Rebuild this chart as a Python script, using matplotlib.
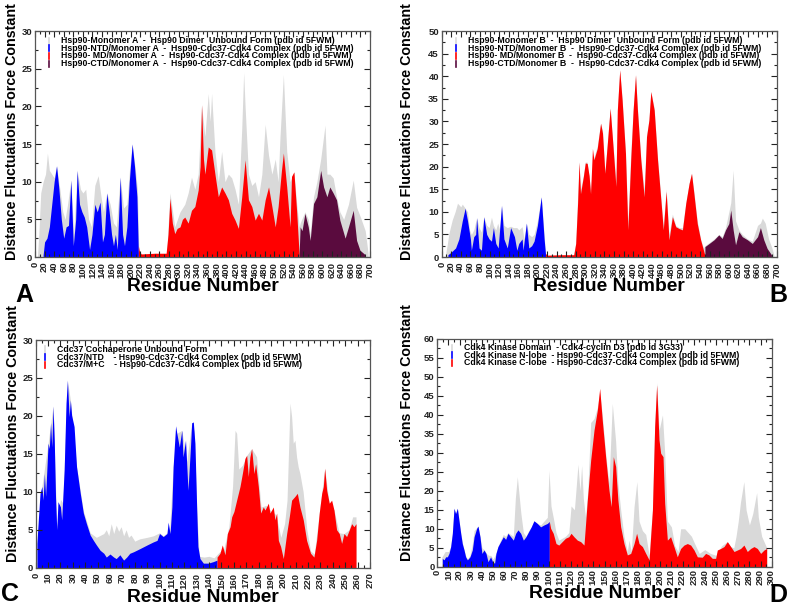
import matplotlib
matplotlib.use("Agg")
import matplotlib.pyplot as plt
from matplotlib.ticker import MultipleLocator
from matplotlib.lines import Line2D

plt.rcParams['font.family'] = ['Liberation Sans', 'DejaVu Sans']
plt.rcParams['font.weight'] = 'bold'

GRAY = '#d9d9d9'
BLUE = '#0000ff'
RED = '#ff0000'
MAROON = '#5a0b3e'

# ---------------- Panel A ----------------
A_gray_res = [5, 8, 12, 17, 22, 26, 30, 35, 40, 45, 52, 58, 63, 68, 75, 81, 88, 95, 100, 106,
              112, 118, 125, 132, 138, 143, 150, 157, 164, 170, 178, 185, 192, 198, 203, 209, 214, 217, 220, 275,
              282, 292, 303, 313, 320, 327, 334, 341, 348, 355, 362, 366, 369, 376, 383, 390, 397, 404, 411, 418,
              425, 432, 436, 439, 446, 453, 460, 467, 474, 481, 488, 495, 502, 508, 512, 519, 526, 533, 541, 547,
              552, 554, 564, 571, 575, 582, 589, 597, 606, 610, 616, 623, 630, 637, 645, 655, 665, 672, 680, 690, 696]
A_gray_val = [0, 3, 8.5, 10, 11, 13.8, 11.5, 11, 10.5, 12.1, 9, 6, 5, 7, 10.2, 3, 11.5, 9, 8.5, 9,
              5, 4, 9.5, 10.8, 8, 6, 8.5, 7, 4.5, 4, 10.6, 6.5, 7, 12, 15, 12, 9, 1, 0.4, 0.4,
              8.5, 4, 6, 7, 8.5, 10.6, 9, 11, 20.2, 16, 21.7, 18, 21.7, 14, 10, 14, 10, 11, 10.5, 9,
              7, 17, 24.5, 20, 11, 9.5, 10, 8, 11, 17.6, 13.5, 11, 13, 10, 16, 24.2, 14, 10, 11.3, 7,
              4, 4.5, 6, 5, 3, 8, 10, 13, 17.5, 11, 11, 10.5, 8, 6, 5, 7, 10.2, 6.6, 5.3, 3.5, 0.5]
A_ntd_res = [17, 20, 25, 30, 35, 40, 45, 50, 55, 60, 65, 70, 75, 80, 85, 88, 93, 98, 103, 108,
             114, 119, 125, 130, 136, 141, 145, 150, 155, 160, 164, 168, 172, 178, 183, 187, 192, 197, 203, 208, 213, 216]
A_ntd_val = [0.3, 2, 2.5, 4, 7, 10, 12.1, 9, 5, 2.5, 4, 4.2, 10.2, 1.5, 5, 11.5, 7, 6, 5.3, 4,
             1, 3, 7, 6, 7.3, 2, 3, 8.5, 6, 3, 1.5, 3, 1, 10.6, 3, 1.5, 4, 10, 15, 12, 8, 0.5]
A_md_res = [216, 218, 222, 250, 274, 278, 282, 287, 292, 297, 303, 308, 313, 320, 327, 334, 341, 345, 348, 352,
            355, 362, 369, 376, 383, 390, 397, 404, 411, 418, 425, 432, 439, 446, 453, 460, 467, 474, 481, 488,
            495, 502, 508, 515, 519, 526, 533, 536, 541, 547, 552]
A_md_val = [1.5, 0.8, 0.4, 0.5, 0.5, 3, 7.8, 4.5, 3.1, 3.8, 4, 5, 5.3, 4.5, 6.2, 6.7, 8.9, 12, 20.2, 13,
            11, 14.6, 14.2, 11, 8, 9.3, 8.5, 7.6, 5.8, 4.9, 3.8, 8, 12.9, 7.6, 6.7, 4.9, 5.8, 4.9, 7.6, 9.3,
            6.7, 4, 6.7, 11.5, 13.8, 9.3, 4, 10.7, 11.3, 5.8, 0.2]
A_ctd_res = [552, 554, 558, 564, 571, 575, 582, 589, 597, 603, 610, 616, 623, 630, 637, 648, 655, 665, 672, 679, 690]
A_ctd_val = [0.5, 4, 3.5, 5.8, 4, 2.2, 7.1, 8, 11.5, 9.3, 8, 9.3, 8.5, 7.6, 4.9, 2.5, 4, 6.2, 2.2, 0.9, 0.3]

# ---------------- Panel B ----------------
B_gray_res = [8, 12, 15, 22, 28, 33, 40, 43, 49, 54, 58, 62, 67, 73, 78, 83, 88, 94, 99, 104,
              108, 113, 117, 121, 125, 130, 137, 144, 150, 157, 161, 168, 172, 177, 182, 188, 193, 200, 208, 214,
              217, 220, 275, 280, 287, 290, 296, 300, 304, 311, 318, 325, 332, 336, 341, 346, 352, 357, 364, 367,
              372, 377, 384, 389, 395, 400, 405, 409, 416, 423, 428, 433, 437, 444, 451, 458, 463, 469, 475, 482,
              489, 496, 503, 510, 517, 522, 527, 534, 541, 547, 550, 559, 569, 579, 586, 593, 600, 604, 609, 614,
              621, 628, 639, 649, 660, 666, 670, 676, 683, 690, 694]
B_gray_val = [0.5, 3, 5.2, 8.2, 10, 11.9, 11.1, 11.7, 10.8, 10, 6, 5, 6, 8.7, 6.5, 5.5, 8.9, 7, 6.5, 8.8,
              7, 6, 7.5, 6, 11.4, 7, 6.5, 6.8, 6.5, 6.5, 6, 6.7, 4, 7.5, 5, 4.5, 5, 8, 13.3, 5,
              0.5, 0.4, 0.4, 3, 21, 15, 18, 21, 21, 15, 22, 24.5, 29.6, 28, 19, 25, 33, 26, 17, 32.5,
              41.4, 35, 23.5, 8, 23, 32.5, 40.3, 33, 22, 15, 27, 30.3, 36.6, 33, 22, 13, 7, 15, 5, 9.5,
              7, 6.5, 6.5, 12, 16.3, 18.5, 14.5, 8, 4, 2, 2.5, 3.2, 4, 5, 4.5, 6.5, 10, 12, 19.2, 8,
              6, 5, 4, 3.5, 7, 7.5, 8.6, 7.5, 4, 2, 0.5]
B_ntd_res = [13, 19, 24, 29, 36, 43, 49, 54, 60, 62, 67, 71, 73, 78, 83, 88, 94, 99, 104, 108,
             113, 118, 125, 130, 137, 144, 148, 152, 157, 161, 168, 170, 177, 182, 188, 193, 200, 208, 214, 217]
B_ntd_val = [0.5, 1, 1.5, 2, 4, 8, 10.8, 8, 4, 1.5, 4.5, 5, 8.7, 2, 1.5, 8.9, 5, 4, 3.5, 6.5,
             3, 2, 11.4, 4, 2, 6.5, 5.5, 4.5, 1.5, 3, 4, 1.5, 7.5, 2, 2.5, 3.5, 7, 13.3, 4, 0.5]
B_md_res = [217, 220, 250, 276, 280, 284, 287, 290, 296, 300, 304, 308, 311, 315, 318, 325, 332, 336, 341, 346,
            352, 357, 364, 367, 372, 377, 384, 389, 395, 400, 405, 409, 416, 423, 428, 433, 437, 444, 451, 458,
            463, 469, 475, 482, 489, 496, 503, 510, 517, 522, 527, 534, 541, 547, 550]
B_md_val = [0.8, 0.4, 0.5, 0.5, 3, 12, 21, 14, 17.8, 20.8, 20.7, 18, 14, 24, 21.5, 24, 29.6, 27.4, 18.5, 25,
            32.9, 25.9, 15.6, 32.5, 41.4, 34.7, 22.9, 6, 21.5, 32.5, 40.3, 32.5, 21.5, 13.3, 26.6, 30.3, 36.6, 32.5, 21.5, 12.6,
            6, 14.5, 3.8, 8.9, 6.7, 6.3, 6, 11.9, 16.3, 18.5, 14, 7.4, 3.8, 1.5, 0.3]
B_ctd_res = [550, 559, 569, 579, 586, 593, 600, 604, 609, 614, 621, 628, 639, 649, 660, 666, 673, 680, 689]
B_ctd_val = [2.3, 3, 3.8, 4.9, 4.1, 6, 7.4, 10.4, 6, 2.7, 5.6, 4.5, 3.8, 3, 4.5, 6.5, 3.8, 1.9, 0.5]

# ---------------- Panel C ----------------
C_gray_res = [1, 5, 10, 14, 17, 20, 22, 25.6, 28, 33, 38.5, 44, 49, 55, 57, 59, 61, 63, 65, 67,
              69, 71, 73, 75, 77, 80, 84, 90, 95, 100, 103, 106, 108, 111, 114, 118, 122, 126, 128, 130,
              132, 136, 140, 144, 148, 152, 156, 159, 161, 162.3, 164, 167, 170.4, 174.4, 178.4, 182, 186, 190, 194, 198,
              201, 203, 205.4, 206.7, 208, 209.4, 210.7, 212, 213.4, 216, 219, 222, 225, 229, 233.4, 237, 241, 245, 249, 253,
              256, 258.7]
C_gray_val = [3.2, 10.7, 16.4, 21.3, 5.5, 9, 8.5, 24.7, 22.1, 13.3, 7.5, 4.6, 4, 4.5, 5, 4.2, 5.8, 4.5, 5.6, 4.8,
              5.4, 4.2, 5, 4, 4.3, 3.5, 3.8, 4, 4.2, 4.6, 4.2, 4.6, 4.6, 13.3, 17.7, 18.1, 14, 19.1, 18, 8,
              1.5, 1.4, 1.5, 1.3, 2, 2.5, 5.4, 10.7, 18.1, 17.7, 13, 13.5, 14.8, 15.7, 14.6, 8, 8.2, 7.5, 7, 4,
              5.8, 8.9, 21.7, 19.9, 16.4, 16.8, 14.6, 13.3, 12.4, 10, 5, 2.2, 1.8, 7.2, 13.1, 8.5, 7.6, 4.6, 4.5, 5,
              6.7, 6.7]
C_ntd_res = [1, 2, 3.5, 5, 6, 7, 8, 10, 11, 12, 13, 14, 15, 16, 17, 18, 20, 21, 23, 24.5,
             25.6, 27, 28, 29, 31, 33, 36, 38.5, 41, 44, 46.6, 49, 52, 55, 57, 60, 63, 65, 68, 71,
             73.5, 76, 79, 84, 90, 95, 98, 100, 103, 106, 107, 108.5, 110, 111, 113, 114, 116, 118, 119, 121,
             123, 125, 126, 127.3, 128.6, 130, 131, 132.7, 135.4, 139.4, 143.4, 146.5]
C_ntd_val = [3.2, 6, 9.8, 10.7, 8.9, 12.4, 9.4, 16.4, 15.7, 19.1, 15.9, 21.3, 16.8, 9.4, 5, 8.7, 8, 6.3, 12.9, 21.7,
             24.7, 19.9, 22.1, 20.1, 18.6, 13.3, 9.8, 7.2, 5.8, 4.3, 3.6, 3, 2.3, 1.9, 1.4, 1.8, 1.4, 1.2, 1.7, 1,
             1.4, 1.9, 2.1, 2.5, 3, 3.4, 3.6, 4.5, 4.1, 4.5, 6, 4.5, 8, 13.3, 18.7, 17.7, 15.9, 18.1, 14.6, 16.8,
             10.2, 15.9, 19.1, 19.2, 16.4, 8, 2.8, 1.2, 0.6, 0.6, 0.8, 1]
C_mc_res = [146.5, 148.8, 150.7, 152.9, 154.8, 157, 158.3, 160.1, 162.3, 165, 166.9, 169, 170.4, 171.7, 173, 174.4, 176.3, 177.6, 179.8, 181.7,
            183.8, 185.2, 187.9, 189.2, 191.9, 193.2, 194.6, 196, 197.8, 200, 202.7, 204.8, 206.7, 209.4, 211.3, 213.4, 216.1, 218.8, 222, 224.7,
            226.9, 229, 231, 232.3, 233.4, 235, 237.1, 239, 240.9, 243, 245.2, 247.1, 249, 251.1, 253.3, 255.2, 257, 258.7]
C_mc_val = [1.4, 1.9, 3, 1.7, 4.5, 5.4, 6.7, 7.4, 8.9, 10.7, 12.4, 14.4, 14.8, 12, 14.6, 15.7, 12.4, 13.7, 10.7, 7.2,
            8, 7.6, 8.5, 7.2, 8, 6.3, 7.2, 3.6, 2.8, 1.2, 4.5, 6.7, 8.9, 9.4, 9.8, 8, 6.3, 3.6, 1.9, 1.4,
            3.6, 7.2, 9.8, 10.7, 13.1, 10.2, 8.5, 8.9, 7.6, 5, 4.5, 3.2, 4.5, 4.1, 5, 5.8, 5.4, 5.8]

# ---------------- Panel D ----------------
D_gray_res = [4, 7, 10, 12, 13.5, 15, 16.4, 18, 19.4, 21, 22.4, 24, 25.4, 27, 29.3, 31.4, 33, 35.3, 36.5, 38.3,
              40, 42, 44, 46, 48, 50, 52.6, 54.4, 56.8, 59.2, 61.3, 63.4, 65.8, 68.2, 70, 71.8, 73, 75, 77.2, 79.5,
              82, 84.3, 86.7, 89.7, 92.7, 95.7, 98.7, 100.2, 102, 104, 106.5, 109, 112, 115, 118, 120, 123, 126.2, 128, 129.5,
              131, 133, 135, 137.6, 140.6, 143.6, 145.7, 148, 151, 154, 157, 160, 162, 164.5, 167.5, 170.5, 172, 174, 176.5, 179,
              181, 184, 187, 190, 193, 195, 196.8, 199, 202, 204, 206.4, 210, 213, 216, 218.3, 222, 225, 228, 231, 235,
              240, 245, 250, 255, 260, 263, 266, 268, 270, 272, 275, 277, 280, 283, 286.5, 288, 291, 294, 295.5]
D_gray_val = [2.5, 4, 4, 5.3, 8.8, 15.4, 14, 15.4, 12.3, 9, 6.5, 4.5, 3, 2, 3, 6, 9.5, 10.3, 10.7, 8,
              5, 4.5, 3.5, 3, 3, 2, 3.5, 5.3, 7, 8.5, 8, 9, 8.5, 8, 18, 23.7, 20, 14, 9, 8,
              9.5, 10.5, 12.1, 11.4, 11, 12, 13, 25.4, 16, 13, 9, 7, 7.5, 8, 9, 16, 15, 27, 20, 26.7,
              18, 13, 20, 38, 39, 42, 46, 40, 30, 22, 43, 33, 22, 15, 8, 4, 7, 4, 15.8, 22.4,
              12, 9.5, 8.5, 3, 15, 37, 48.5, 36, 40, 30, 12, 10.5, 5.5, 4, 10, 10, 9, 8, 6, 3.5,
              4.5, 3.5, 3, 5.5, 6.6, 5.3, 5, 8, 12, 17, 22.4, 15, 11, 14, 19.5, 13, 8, 6, 5]
D_nlobe_res = [4.5, 6, 7.5, 9, 10.5, 12, 13.5, 15, 16.4, 18, 19.4, 21, 22.4, 24, 25.4, 27, 29.3, 31.4, 33, 35.3,
               36.5, 38.3, 40, 41.9, 43.7, 45.5, 47.8, 49.6, 51.4, 52.6, 54.4, 56.8, 59.2, 61.3, 63.4, 65.8, 68.2, 70.3, 72.4, 74.8,
               77.2, 79.5, 81.9, 84.3, 86.7, 89.7, 92.7, 95.7, 98.7, 100.5]
D_nlobe_val = [2.2, 1.8, 2.6, 2.6, 3.5, 5.3, 8.8, 15.4, 14, 15.4, 12.3, 8.8, 6.1, 4.4, 2.6, 1.8, 2.6, 4.4, 7.9, 10.1,
               10.7, 7.9, 3.5, 4.4, 3.5, 1.3, 2.6, 1.3, 0.9, 3.5, 5.3, 6.6, 7.9, 7.2, 8.8, 7.9, 7, 8.8, 9.7, 8.8,
               7, 7.9, 9.2, 10.5, 12.1, 11.4, 10.5, 11, 11.4, 11.9]
D_clobe_res = [100.5, 101.7, 104, 106.5, 109, 112, 115, 118, 120, 122.6, 125.6, 128.6, 131.6, 134.6, 137.6, 140.6, 143.6, 145.7, 148, 151,
               154, 156, 157.9, 160, 162, 164.5, 167.5, 170.5, 173.5, 176.5, 178.8, 181, 184, 187, 190, 193, 195, 196.8, 198.9, 200.4,
               202.5, 204, 206.4, 209.3, 212.3, 215.3, 218.3, 221.3, 224.3, 227.3, 230.3, 233.3, 237.7, 240.7, 243.7, 246.7, 249.7, 251.2, 254.2, 257.2,
               260.2, 263.2, 266.2, 269.2, 272.1, 275.1, 278.1, 281.1, 284.1, 287.1, 290.1, 293.1, 295.5]
D_clobe_val = [11.9, 10.1, 8.8, 6.1, 5.7, 6.6, 7.5, 7.9, 8.8, 7.9, 7, 6.6, 5.7, 17.6, 28.1, 36, 41.3, 47, 38.6, 29,
               20.2, 15.8, 29, 26.4, 17.6, 10.5, 6.1, 3.1, 3.5, 6.1, 8.8, 6.1, 5.3, 3.5, 1.8, 14.9, 36.9, 47.9, 33.4, 29.9,
               29, 16.7, 7, 7.9, 5.3, 2.6, 4.8, 5.7, 6.1, 5.7, 4.4, 2.6, 2.5, 3.5, 3.1, 2.2, 2.2, 4.4, 4.8, 5.3,
               6.6, 5.3, 4, 4.4, 4.8, 5.7, 4, 4.8, 5.3, 4.8, 3.5, 4.4, 4.8]

legend_A = ["Hsp90-Monomer A  -  Hsp90 Dimer  Unbound Form (pdb id 5FWM)",
            "Hsp90-NTD/Monomer A  -  Hsp90-Cdc37-Cdk4 Complex (pdb id 5FWM)",
            "Hsp90- MD/Monomer A  -  Hsp90-Cdc37-Cdk4 Complex (pdb id 5FWM)",
            "Hsp90-CTD/Monomer A  -  Hsp90-Cdc37-Cdk4 Complex (pdb id 5FWM)"]
legend_B = ["Hsp90-Monomer B  -  Hsp90 Dimer  Unbound Form (pdb id 5FWM)",
            "Hsp90-NTD/Monomer B  -  Hsp90-Cdc37-Cdk4 Complex (pdb id 5FWM)",
            "Hsp90- MD/Monomer B  -  Hsp90-Cdc37-Cdk4 Complex (pdb id 5FWM)",
            "Hsp90-CTD/Monomer B  -  Hsp90-Cdc37-Cdk4 Complex (pdb id 5FWM)"]
legend_C = ["Cdc37 Cochaperone Unbound Form",
            "Cdc37/NTD    - Hsp90-Cdc37-Cdk4 Complex (pdb id 5FWM)",
            "Cdc37/M+C    - Hsp90-Cdc37-Cdk4 Complex (pdb id 5FWM)"]
legend_D = ["Cdk4 Kinase Domain  - Cdk4-cyclin D3 (pdb id 3G33)",
            "Cdk4 Kinase N-lobe  - Hsp90-Cdc37-Cdk4 Complex (pdb id 5FWM)",
            "Cdk4 Kinase C-lobe  - Hsp90-Cdc37-Cdk4 Complex (pdb id 5FWM)"]

W, H = 788, 606
fig = plt.figure(figsize=(W / 100, H / 100), dpi=100)


def make_ax(l, r, t, b):
    return fig.add_axes([l / W, 1 - b / H, (r - l) / W, (b - t) / H])


def panel(ax, series, gray, xmax, xstep, xminor, ymax, ystep, yminor, labels, colors, leg_x, leg_y0,
          ylab_x, ylab_y, xpad):
    ax.fill_between(gray[0], gray[1], 0, color=GRAY, lw=0)
    for (rx, ry), c in zip(series, colors[1:]):
        ax.fill_between(rx, ry, 0, color=c, lw=0)
    ax.set_xlim(0, xmax)
    ax.set_ylim(0, ymax)
    ax.xaxis.set_major_locator(MultipleLocator(xstep))
    ax.xaxis.set_minor_locator(MultipleLocator(xminor))
    ax.yaxis.set_major_locator(MultipleLocator(ystep))
    ax.yaxis.set_minor_locator(MultipleLocator(yminor))
    ax.tick_params(which='both', direction='in', top=True, right=True, colors='#222222', width=0.8)
    ax.tick_params(which='major', length=4, labelsize=6.8, pad=2)
    ax.tick_params(axis='x', which='major', pad=xpad)
    ax.tick_params(which='minor', length=2)
    for lab in ax.get_xticklabels():
        lab.set_rotation(90)
        lab.set_fontweight('bold')
    for lab in ax.get_yticklabels():
        lab.set_fontweight('bold')
    for s in ax.spines.values():
        s.set_color('#555555')
        s.set_linewidth(0.9)
    ax.set_xlabel('Residue Number', fontsize=13.8, fontweight='bold', labelpad=0)
    ax.set_ylabel('Distance Fluctuations Force Constant', fontsize=10.3, fontweight='bold')
    bb = ax.get_position()
    ax.yaxis.set_label_coords((ylab_x / W - bb.x0) / bb.width, ylab_y)
    for i, (txt, c) in enumerate(zip(labels, colors)):
        ypx = leg_y0 + i * 7.7
        fy = 1 - ypx / H
        fig.text((leg_x + 12) / W, fy, txt, fontsize=6.3, fontweight='bold', va='center', ha='left')
        fig.add_artist(Line2D([(leg_x) / W] * 2, [fy - 3 / H, fy + 3 / H], color=c, lw=1.2))


axA = make_ax(35, 370, 31, 257)
panel(axA, [(A_ntd_res, A_ntd_val), (A_md_res, A_md_val), (A_ctd_res, A_ctd_val)],
      (A_gray_res, A_gray_val), 700, 20, 10, 30, 5, 2.5, legend_A, [GRAY, BLUE, RED, MAROON], 49, 40.5, 19, 0.555, 3.5)

axB = make_ax(441.7, 776.7, 31, 257)
panel(axB, [(B_ntd_res, B_ntd_val), (B_md_res, B_md_val), (B_ctd_res, B_ctd_val)],
      (B_gray_res, B_gray_val), 700, 20, 10, 50, 5, 2.5, legend_B, [GRAY, BLUE, RED, MAROON], 456, 40.5, 414, 0.555, 3.5)

axC = make_ax(35.7, 370, 340, 567.7)
panel(axC, [(C_ntd_res, C_ntd_val), (C_mc_res, C_mc_val)],
      (C_gray_res, C_gray_val), 270, 10, 5, 30, 5, 2.5, legend_C, [GRAY, BLUE, RED], 45, 349.5, 20, 0.587, 3.5)

axD = make_ax(437.3, 771.7, 339, 566.7)
panel(axD, [(D_nlobe_res, D_nlobe_val), (D_clobe_res, D_clobe_val)],
      (D_gray_res, D_gray_val), 300, 10, 5, 60, 5, 2.5, legend_D, [GRAY, BLUE, RED], 452, 347.5, 414, 0.587, 2.0)

fig.text(15 / W, 1 - 302 / H, 'A', fontsize=18, fontweight='bold', ha='left', va='baseline')
fig.text(787 / W, 1 - 302 / H, 'B', fontsize=18, fontweight='bold', ha='right', va='baseline')
fig.text(1 / W, 1 - 601 / H, 'C', fontsize=18, fontweight='bold', ha='left', va='baseline')
fig.text(787 / W, 1 - 602.5 / H, 'D', fontsize=18, fontweight='bold', ha='right', va='baseline')

fig.savefig('out.png', dpi=100)
